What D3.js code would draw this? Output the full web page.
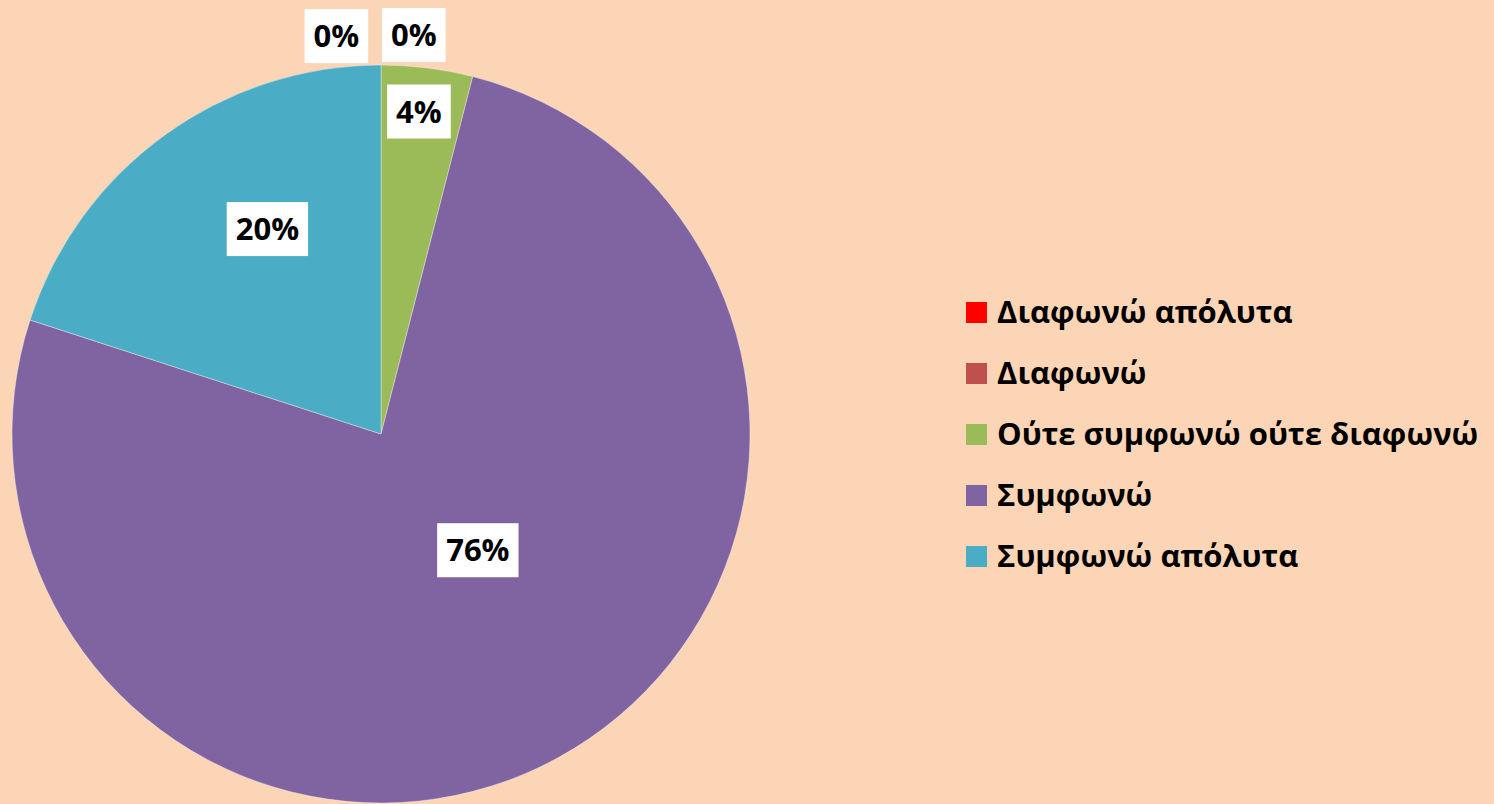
<!DOCTYPE html>
<html>
<head>
<meta charset="utf-8">
<script src="https://cdn.jsdelivr.net/npm/d3@7/dist/d3.min.js"></script>
<style>
  html, body { margin: 0; padding: 0; background: #FBD5B5; }
  svg { display: block; }
  text { font-family: "Open Sans", "Noto Sans", sans-serif; font-weight: bold; fill: #000; }
</style>
</head>
<body>
<svg id="chart" width="1494" height="804"></svg>
<script>
// Survey responses (share of respondents, %)
const categories = ["Διαφωνώ απόλυτα", "Διαφωνώ", "Ούτε συμφωνώ ούτε διαφωνώ", "Συμφωνώ", "Συμφωνώ απόλυτα"];
const values = [0, 0, 4, 76, 20];
const labels = ["0%", "0%", "4%", "76%", "20%"];
const colors = ["#FF0000", "#C0504D", "#9BBB59", "#8064A2", "#4BACC6"];

// Label placement per slice: radius as a fraction of the pie radius and an angular nudge (degrees)
const labelRadius = [1.085, 1.085, 0.88, 0.41, 0.635];
const labelNudge = [-6.4, 4.7, -0.5, -11, 7];

const W = 1494, H = 804;
const cx = 381, cy = 434, R = 369;

const svg = d3.select("#chart");
svg.append("rect").attr("width", W).attr("height", H).attr("fill", "#FBD5B5");

const data = categories.map((c, i) => ({ name: c, value: values[i], label: labels[i], color: colors[i], i }));

const pie = d3.pie().value(d => d.value).sort(null);
const arcs = pie(data);
const arc = d3.arc().innerRadius(0).outerRadius(R);

const g = svg.append("g").attr("transform", `translate(${cx},${cy})`);

g.selectAll("path.slice")
  .data(arcs.filter(a => a.data.value > 0))
  .join("path")
  .attr("class", "slice")
  .attr("d", arc)
  .attr("fill", d => d.data.color)
  .attr("stroke", "rgba(255,255,255,0.45)")
  .attr("stroke-width", 0.8);

// Data labels in white boxes
const fontLabel = 31;
const lab = g.selectAll("g.lbl")
  .data(arcs)
  .join("g")
  .attr("class", "lbl")
  .attr("transform", d => {
    const mid = (d.startAngle + d.endAngle) / 2 + labelNudge[d.data.i] * Math.PI / 180;
    const r = R * labelRadius[d.data.i];
    return `translate(${r * Math.sin(mid)},${-r * Math.cos(mid)})`;
  });

lab.append("rect")
  .attr("fill", "#fff");

lab.append("text")
  .attr("text-anchor", "middle")
  .attr("dy", "0.36em")
  .style("font-size", fontLabel + "px")
  .text(d => d.data.label);

lab.each(function () {
  const t = d3.select(this).select("text").node();
  const w = t.getComputedTextLength();
  const bw = w + 18, bh = 54;
  d3.select(this).select("rect")
    .attr("x", -bw / 2).attr("y", -bh / 2)
    .attr("width", bw).attr("height", bh);
});

// Legend
const legend = svg.append("g").attr("transform", "translate(966,302)");
const rowH = 61;
const item = legend.selectAll("g.item")
  .data(data)
  .join("g")
  .attr("class", "item")
  .attr("transform", (d, i) => `translate(0,${i * rowH})`);

item.append("rect")
  .attr("width", 21).attr("height", 21)
  .attr("fill", d => d.color);

item.append("text")
  .attr("x", 31)
  .attr("y", 21)
  .style("font-size", "31px")
  .text(d => d.name);
</script>
</body>
</html>
